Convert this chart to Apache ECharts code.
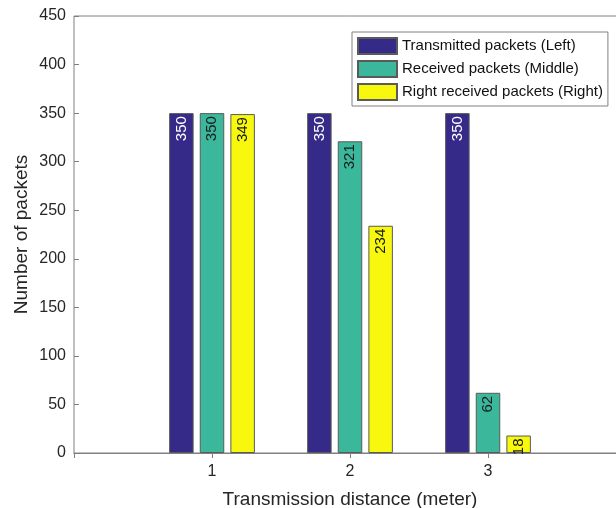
<!DOCTYPE html>
<html>
<head>
<meta charset="utf-8">
<script src="https://cdn.jsdelivr.net/npm/echarts@6/dist/echarts.min.js"></script>
<style>
html,body{margin:0;padding:0;background:#fff;overflow:hidden;}
#chart{width:616px;height:508px;}
</style>
</head>
<body>
<div id="chart"></div>
<script>
// ---- data ----
var distances = [1, 2, 3];
var seriesNames = ['Transmitted packets (Left)', 'Received packets (Middle)', 'Right received packets (Right)'];
var transmitted = [350, 350, 350];
var receivedMiddle = [350, 321, 62];
var receivedRight = [349, 234, 18];
var yTicks = [0, 50, 100, 150, 200, 250, 300, 350, 400, 450];

var FONT = 'Liberation Sans, Arial, sans-serif';
var AXC = '#808080';
var TXT = '#262626';

function pairs(vals) { return distances.map(function (d, i) { return [d, vals[i]]; }); }

function barSeries(name, vals, color, labelColor) {
  return {
    name: name,
    type: 'bar',
    xAxisIndex: 0,
    yAxisIndex: 0,
    barWidth: 24.5,
    barGap: '25%',
    data: pairs(vals),
    itemStyle: { color: color, borderColor: '#5a5a5a', borderWidth: 1 },
    label: {
      show: true,
      position: 'insideTop',
      distance: 3,
      rotate: 90,
      align: 'right',
      verticalAlign: 'middle',
      fontFamily: FONT,
      fontSize: 15,
      color: labelColor,
      formatter: function (p) { return p.value[1]; }
    },
    emphasis: { disabled: true }
  };
}

var chart = echarts.init(document.getElementById('chart'), null, { renderer: 'canvas' });
chart.setOption({
  animation: false,
  backgroundColor: '#fff',
  grid: { left: 74, top: 16, height: 437, width: 552, show: true, borderColor: AXC, borderWidth: 1, containLabel: false, outerBoundsMode: 'none' },
  legend: {
    orient: 'vertical',
    left: 352,
    top: 32,
    padding: [5, 5, 5, 5],
    itemWidth: 39,
    itemHeight: 16,
    itemGap: 5,
    borderColor: AXC,
    borderWidth: 1,
    backgroundColor: '#fff',
    icon: 'rect',
    textStyle: { fontFamily: FONT, fontSize: 15, color: '#111', lineHeight: 16 },
    data: seriesNames
  },
  xAxis: [{
    type: 'value',
    min: 0, max: 4, interval: 1,
    position: 'bottom',
    name: 'Transmission distance (meter)',
    nameLocation: 'middle',
    nameGap: 37,
    nameTextStyle: { fontFamily: FONT, fontSize: 19, color: TXT },
    axisLine: { show: true, onZero: false, lineStyle: { color: AXC, width: 1 } },
    axisTick: { show: false },
    axisLabel: {
      fontFamily: FONT, fontSize: 16, color: TXT, margin: 11,
      formatter: function (v) { return distances.indexOf(v) >= 0 ? String(v) : ''; }
    },
    splitLine: { show: false }
  }, {
    type: 'value',
    min: 0, max: 4, interval: 1,
    position: 'top',
    axisLine: { show: true, lineStyle: { color: AXC, width: 1 } },
    axisTick: { show: true, inside: true, length: 5, lineStyle: { color: AXC } },
    axisLabel: { show: false },
    splitLine: { show: false }
  }],
  yAxis: {
    type: 'value',
    min: 0, max: 450, interval: 50,
    name: 'Number of packets',
    nameLocation: 'middle',
    nameGap: 43,
    nameMoveOverlap: false,
    nameTextStyle: { fontFamily: FONT, fontSize: 19, color: TXT },
    axisLine: { show: false },
    axisTick: { show: true, inside: true, length: 5, lineStyle: { color: AXC } },
    axisLabel: {
      fontFamily: FONT, fontSize: 16, color: TXT, margin: 8,
      formatter: function (v) { return yTicks.indexOf(v) >= 0 ? String(v) : ''; }
    },
    splitLine: { show: false }
  },
  series: [
    barSeries(seriesNames[0], transmitted, '#352a87', '#ffffff'),
    barSeries(seriesNames[1], receivedMiddle, '#3bb89c', '#1a1a1a'),
    barSeries(seriesNames[2], receivedRight, '#f8f80f', '#1a1a1a')
  ]
});
</script>
</body>
</html>
